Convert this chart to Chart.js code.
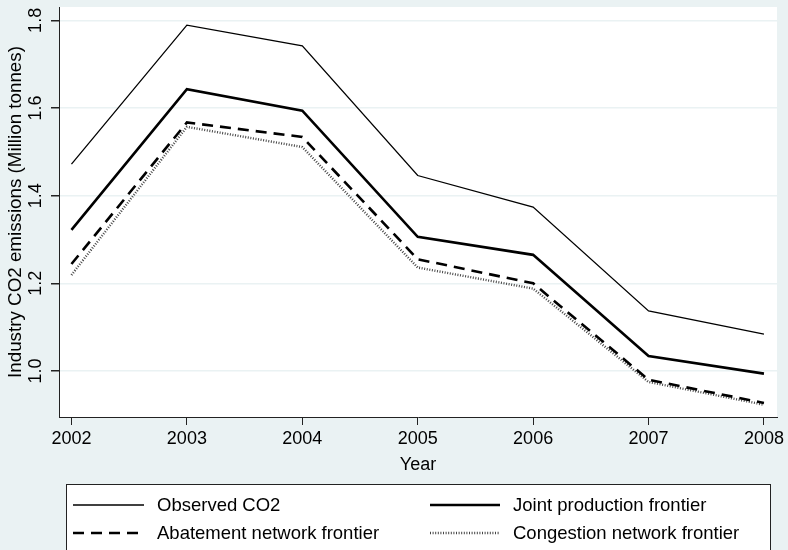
<!DOCTYPE html>
<html>
<head>
<meta charset="utf-8">
<title>Industry CO2 emissions</title>
<script src="https://cdn.jsdelivr.net/npm/chart.js@4.4.1/dist/chart.umd.min.js"></script>
<style>
  html, body { margin: 0; padding: 0; background: #EAF2F3; }
  canvas { display: block; }
</style>
</head>
<body>
<canvas id="co2Chart" width="788" height="550"></canvas>
<script>
// Jahre und Emissionen (Mio. t)
const years = [2002, 2003, 2004, 2005, 2006, 2007, 2008];
const observedCO2 = [1.472, 1.789, 1.742, 1.446, 1.374, 1.137, 1.084];
const jointFrontier = [1.322, 1.643, 1.594, 1.306, 1.265, 1.034, 0.994];
const abatementFrontier = [1.244, 1.567, 1.534, 1.255, 1.200, 0.980, 0.927];
const congestionFrontier = [1.219, 1.557, 1.511, 1.236, 1.188, 0.975, 0.923];
const yTicks = [1.0, 1.2, 1.4, 1.6, 1.8];

const FONT = 'Liberation Sans, Arial, Helvetica, sans-serif';
const BG = '#EAF2F3';

// Weisser Plotbereich
const plotBackground = {
    id: 'plotBackground',
    beforeDraw(chart) {
        const { ctx, chartArea: a } = chart;
        ctx.save();
        ctx.fillStyle = '#fff';
        ctx.fillRect(a.left, a.top, a.right - a.left, a.bottom - a.top);
        ctx.restore();
    }
};

// Legende im Kasten, zwei Spalten
const boxLegend = {
    id: 'boxLegend',
    afterDraw(chart) {
        const { ctx } = chart;
        const sets = chart.data.datasets;
        const box = { left: 66.5, top: 484.5, right: 770.5, bottom: 600 };
        const cols = [{ x1: 73, x2: 144, tx: 157 }, { x1: 430, x2: 500, tx: 513 }];
        const rows = [505, 533];
        ctx.save();
        ctx.fillStyle = '#fff';
        ctx.fillRect(box.left, box.top, box.right - box.left, box.bottom - box.top);
        ctx.strokeStyle = '#222';
        ctx.lineWidth = 1;
        ctx.strokeRect(box.left, box.top, box.right - box.left, box.bottom - box.top);
        ctx.font = '18.5px ' + FONT;
        ctx.textBaseline = 'middle';
        ctx.textAlign = 'left';
        sets.forEach((ds, i) => {
            const c = cols[i % 2];
            const y = rows[Math.floor(i / 2)];
            ctx.beginPath();
            ctx.setLineDash(ds.borderDash || []);
            ctx.strokeStyle = ds.borderColor;
            ctx.lineWidth = ds.borderWidth;
            ctx.moveTo(c.x1, y);
            ctx.lineTo(c.x2, y);
            ctx.stroke();
            ctx.setLineDash([]);
            ctx.fillStyle = '#000';
            ctx.fillText(ds.label, c.tx, y + 1);
        });
        ctx.restore();
    }
};

new Chart(document.getElementById('co2Chart'), {
    type: 'line',
    data: {
        labels: years,
        datasets: [
            {
                label: 'Observed CO2',
                data: observedCO2,
                borderColor: '#000',
                borderWidth: 1.3
            },
            {
                label: 'Joint production frontier',
                data: jointFrontier,
                borderColor: '#000',
                borderWidth: 2.6
            },
            {
                label: 'Abatement network frontier',
                data: abatementFrontier,
                borderColor: '#000',
                borderWidth: 2.6,
                borderDash: [11, 7]
            },
            {
                label: 'Congestion network frontier',
                data: congestionFrontier,
                borderColor: '#444',
                borderWidth: 2.4,
                borderDash: [1, 1.6]
            }
        ]
    },
    options: {
        responsive: false,
        animation: false,
        devicePixelRatio: 1,
        layout: { padding: { left: 0, top: 7, right: 11, bottom: 73 } },
        elements: {
            point: { radius: 0, hoverRadius: 0 },
            line: { tension: 0, fill: false, borderJoinStyle: 'miter', borderCapStyle: 'butt' }
        },
        plugins: {
            legend: { display: false },
            tooltip: { enabled: false }
        },
        scales: {
            x: {
                type: 'linear',
                min: 2001.892,
                max: 2008.113,
                afterBuildTicks: scale => { scale.ticks = years.map(v => ({ value: v })); },
                afterFit: scale => { scale.height = 60; },
                border: { color: '#222', width: 1 },
                grid: { drawOnChartArea: false, tickLength: 8, tickColor: '#222' },
                ticks: {
                    color: '#000',
                    font: { family: FONT, size: 18 },
                    padding: 3.5,
                    maxRotation: 0,
                    callback: v => String(v)
                },
                title: {
                    display: true,
                    text: 'Year',
                    color: '#000',
                    font: { family: FONT, size: 18 },
                    padding: { top: 0, bottom: 1.5 }
                }
            },
            y: {
                min: 0.895,
                max: 1.8305,
                afterBuildTicks: scale => { scale.ticks = yTicks.map(v => ({ value: v })); },
                afterFit: scale => {
                    scale.width = 59;
                    scale.paddingTop = 0;
                    scale.paddingBottom = 0;
                },
                border: { color: '#222', width: 1 },
                grid: { color: BG, lineWidth: 1.5, tickLength: 8, tickColor: '#222' },
                ticks: {
                    color: '#000',
                    font: { family: FONT, size: 18 },
                    padding: 2.5,
                    minRotation: 90,
                    maxRotation: 90,
                    crossAlign: 'center',
                    callback: v => Number(v).toFixed(1)
                },
                title: {
                    display: true,
                    text: 'Industry CO2 emissions (Million tonnes)',
                    color: '#000',
                    font: { family: FONT, size: 18.8 },
                    padding: { top: 4.5, bottom: 0 }
                }
            }
        }
    },
    plugins: [plotBackground, boxLegend]
});
</script>
</body>
</html>
